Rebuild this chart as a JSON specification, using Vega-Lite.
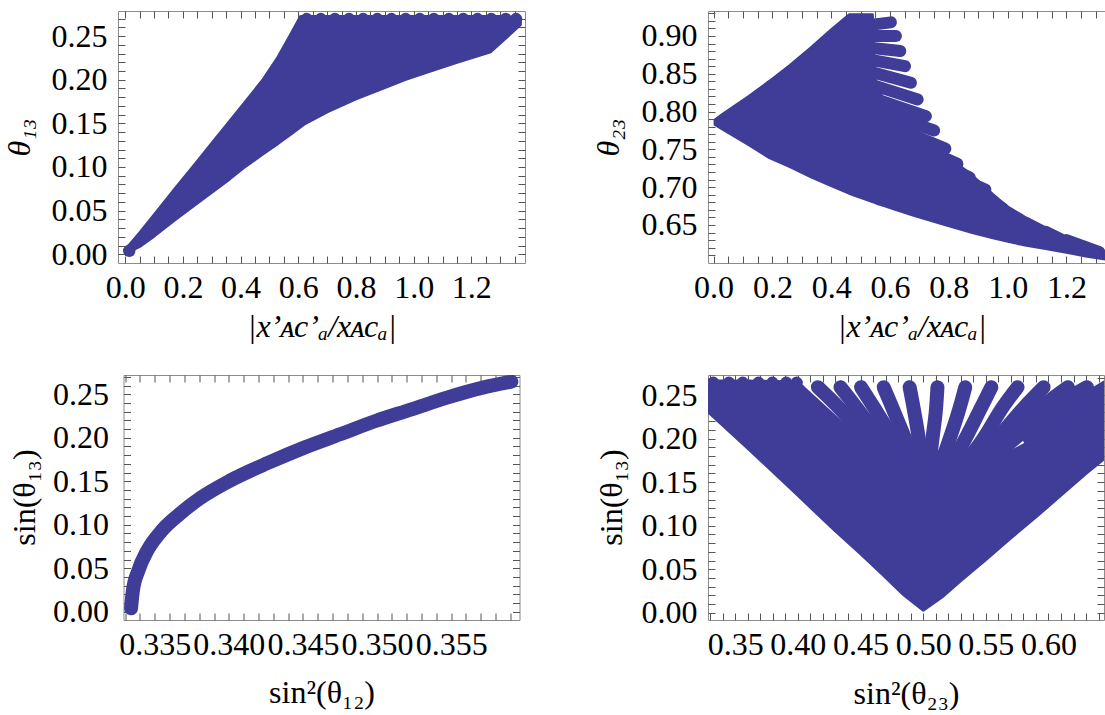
{
  "$schema": "https://vega.github.io/schema/vega-lite/v6.json",
  "background": "white",
  "padding": {"left": 2, "top": 10, "right": -10, "bottom": 0},
  "columns": 2,
  "align": "all",
  "bounds": "flush",
  "center": true,
  "spacing": {"row": 112, "column": 183},
  "config": {
    "view": {"stroke": "#8c8c8c", "strokeWidth": 1},
    "font": "Liberation Serif",
    "axis": {
      "domain": false, "grid": false,
      "labelFont": "Liberation Serif", "labelFontSize": 32, "labelColor": "#000",
      "titleFont": "Liberation Serif", "titleFontSize": 32, "titleColor": "#000", "titleFontWeight": "normal",
      "tickColor": "#555", "tickWidth": 1, "tickSize": -7,
      "labelOverlap": false, "labelFlush": false, "labelBound": false
    }
  },
  "datasets": {
    "p1body": [
      {"x": 0.008, "lo": 0.002, "hi": 0.008},
      {"x": 0.05, "lo": 0.009, "hi": 0.0244},
      {"x": 0.101, "lo": 0.021, "hi": 0.0453},
      {"x": 0.17, "lo": 0.039, "hi": 0.074},
      {"x": 0.243, "lo": 0.057, "hi": 0.1035},
      {"x": 0.3, "lo": 0.071, "hi": 0.127},
      {"x": 0.361, "lo": 0.086, "hi": 0.152},
      {"x": 0.41, "lo": 0.099, "hi": 0.172},
      {"x": 0.478, "lo": 0.115, "hi": 0.2},
      {"x": 0.53, "lo": 0.127, "hi": 0.226},
      {"x": 0.571, "lo": 0.137, "hi": 0.25},
      {"x": 0.608, "lo": 0.146, "hi": 0.2725},
      {"x": 0.62, "lo": 0.149, "hi": 0.2725},
      {"x": 0.7, "lo": 0.163, "hi": 0.2725},
      {"x": 0.8, "lo": 0.178, "hi": 0.2725},
      {"x": 0.9, "lo": 0.191, "hi": 0.2725},
      {"x": 0.97, "lo": 0.2, "hi": 0.2725},
      {"x": 1.05, "lo": 0.209, "hi": 0.2725},
      {"x": 1.15, "lo": 0.22, "hi": 0.2725},
      {"x": 1.267, "lo": 0.232, "hi": 0.2725},
      {"x": 1.32, "lo": 0.248, "hi": 0.2725},
      {"x": 1.37, "lo": 0.263, "hi": 0.2695}
    ],
    "p1bumps": [
      {"x": 0.014, "y": 0.004},
      {"x": 0.629, "y": 0.2695}, {"x": 0.678, "y": 0.2695}, {"x": 0.727, "y": 0.2695},
      {"x": 0.776, "y": 0.2695}, {"x": 0.825, "y": 0.2695}, {"x": 0.874, "y": 0.2695},
      {"x": 0.923, "y": 0.2695}, {"x": 0.972, "y": 0.2695}, {"x": 1.021, "y": 0.2695},
      {"x": 1.07, "y": 0.2695}, {"x": 1.122, "y": 0.2695}, {"x": 1.172, "y": 0.2695},
      {"x": 1.221, "y": 0.2695}, {"x": 1.269, "y": 0.2695}, {"x": 1.319, "y": 0.2695},
      {"x": 1.355, "y": 0.2695}
    ],
    "p2body": [
      {"x": 0.005, "lo": 0.783, "hi": 0.789},
      {"x": 0.03, "lo": 0.777, "hi": 0.796},
      {"x": 0.06, "lo": 0.77, "hi": 0.804},
      {"x": 0.12, "lo": 0.756, "hi": 0.82},
      {"x": 0.19, "lo": 0.739, "hi": 0.84},
      {"x": 0.26, "lo": 0.727, "hi": 0.861},
      {"x": 0.33, "lo": 0.714, "hi": 0.884},
      {"x": 0.4, "lo": 0.702, "hi": 0.908},
      {"x": 0.461, "lo": 0.692, "hi": 0.928},
      {"x": 0.54, "lo": 0.681, "hi": 0.928},
      {"x": 0.548, "lo": 0.68, "hi": 0.845},
      {"x": 0.56, "lo": 0.678, "hi": 0.83},
      {"x": 0.585, "lo": 0.675, "hi": 0.81},
      {"x": 0.615, "lo": 0.671, "hi": 0.792},
      {"x": 0.686, "lo": 0.662, "hi": 0.77},
      {"x": 0.792, "lo": 0.65, "hi": 0.742},
      {"x": 0.88, "lo": 0.64, "hi": 0.715},
      {"x": 0.95, "lo": 0.633, "hi": 0.69},
      {"x": 1.005, "lo": 0.628, "hi": 0.672},
      {"x": 1.064, "lo": 0.623, "hi": 0.657},
      {"x": 1.129, "lo": 0.619, "hi": 0.643},
      {"x": 1.2, "lo": 0.614, "hi": 0.632},
      {"x": 1.265, "lo": 0.609, "hi": 0.622},
      {"x": 1.334, "lo": 0.605, "hi": 0.614},
      {"x": 1.37, "lo": 0.603, "hi": 0.612}
    ],
    "p2fingers": [
      {"f": "f01", "i": 0, "x": 0.54, "y": 0.915}, {"f": "f01", "i": 1, "x": 0.603, "y": 0.918},
      {"f": "f02", "i": 0, "x": 0.54, "y": 0.9}, {"f": "f02", "i": 1, "x": 0.62, "y": 0.9},
      {"f": "f03", "i": 0, "x": 0.54, "y": 0.884}, {"f": "f03", "i": 1, "x": 0.635, "y": 0.88},
      {"f": "f04", "i": 0, "x": 0.54, "y": 0.868}, {"f": "f04", "i": 1, "x": 0.651, "y": 0.86},
      {"f": "f05", "i": 0, "x": 0.54, "y": 0.852}, {"f": "f05", "i": 1, "x": 0.671, "y": 0.838},
      {"f": "f06", "i": 0, "x": 0.55, "y": 0.834}, {"f": "f06", "i": 1, "x": 0.694, "y": 0.816},
      {"f": "f07", "i": 0, "x": 0.57, "y": 0.814}, {"f": "f07", "i": 1, "x": 0.722, "y": 0.794},
      {"f": "f08", "i": 0, "x": 0.6, "y": 0.795}, {"f": "f08", "i": 1, "x": 0.75, "y": 0.775},
      {"f": "f09", "i": 0, "x": 0.64, "y": 0.775}, {"f": "f09", "i": 1, "x": 0.788, "y": 0.751},
      {"f": "f10", "i": 0, "x": 0.69, "y": 0.755}, {"f": "f10", "i": 1, "x": 0.829, "y": 0.731},
      {"f": "f11", "i": 0, "x": 0.75, "y": 0.735}, {"f": "f11", "i": 1, "x": 0.871, "y": 0.713},
      {"f": "f12", "i": 0, "x": 0.81, "y": 0.716}, {"f": "f12", "i": 1, "x": 0.924, "y": 0.697},
      {"f": "f13", "i": 0, "x": 0.87, "y": 0.7}, {"f": "f13", "i": 1, "x": 0.983, "y": 0.672},
      {"f": "f14", "i": 0, "x": 0.93, "y": 0.683}, {"f": "f14", "i": 1, "x": 1.042, "y": 0.657},
      {"f": "f15", "i": 0, "x": 0.99, "y": 0.668}, {"f": "f15", "i": 1, "x": 1.107, "y": 0.643},
      {"f": "f16", "i": 0, "x": 1.06, "y": 0.653}, {"f": "f16", "i": 1, "x": 1.178, "y": 0.63},
      {"f": "f17", "i": 0, "x": 1.13, "y": 0.641}, {"f": "f17", "i": 1, "x": 1.243, "y": 0.619},
      {"f": "f18", "i": 0, "x": 1.2, "y": 0.63}, {"f": "f18", "i": 1, "x": 1.312, "y": 0.614}
    ],
    "p3curve": [
      {"x": 0.3334, "y": 0.004},
      {"x": 0.33352, "y": 0.0238},
      {"x": 0.33388, "y": 0.0468},
      {"x": 0.33448, "y": 0.0698},
      {"x": 0.33545, "y": 0.0928},
      {"x": 0.33665, "y": 0.112},
      {"x": 0.3381, "y": 0.131},
      {"x": 0.34003, "y": 0.1503},
      {"x": 0.34268, "y": 0.1714},
      {"x": 0.34509, "y": 0.1887},
      {"x": 0.3475, "y": 0.204},
      {"x": 0.3499, "y": 0.2193},
      {"x": 0.35232, "y": 0.2327},
      {"x": 0.35472, "y": 0.2462},
      {"x": 0.35713, "y": 0.2577},
      {"x": 0.35906, "y": 0.2646}
    ],
    "p4body": [
      {"x": 0.326, "lo": 0.234, "hi": 0.266},
      {"x": 0.36, "lo": 0.189, "hi": 0.266},
      {"x": 0.4, "lo": 0.135, "hi": 0.265},
      {"x": 0.405, "lo": 0.128, "hi": 0.258},
      {"x": 0.43, "lo": 0.094, "hi": 0.225},
      {"x": 0.45, "lo": 0.068, "hi": 0.198},
      {"x": 0.467, "lo": 0.045, "hi": 0.175},
      {"x": 0.485, "lo": 0.02, "hi": 0.16},
      {"x": 0.5, "lo": 0.003, "hi": 0.155},
      {"x": 0.515, "lo": 0.018, "hi": 0.156},
      {"x": 0.53, "lo": 0.037, "hi": 0.162},
      {"x": 0.55, "lo": 0.061, "hi": 0.172},
      {"x": 0.57, "lo": 0.086, "hi": 0.185},
      {"x": 0.59, "lo": 0.11, "hi": 0.2},
      {"x": 0.61, "lo": 0.135, "hi": 0.215},
      {"x": 0.63, "lo": 0.16, "hi": 0.235},
      {"x": 0.648, "lo": 0.181, "hi": 0.258}
    ],
    "p4fingers": [
      {"f": "A", "i": 0, "x": 0.416, "y": 0.259}, {"f": "A", "i": 1, "x": 0.433, "y": 0.235}, {"f": "A", "i": 2, "x": 0.455, "y": 0.2}, {"f": "A", "i": 3, "x": 0.477, "y": 0.165},
      {"f": "B", "i": 0, "x": 0.434, "y": 0.259}, {"f": "B", "i": 1, "x": 0.447, "y": 0.235}, {"f": "B", "i": 2, "x": 0.465, "y": 0.2}, {"f": "B", "i": 3, "x": 0.485, "y": 0.16},
      {"f": "C", "i": 0, "x": 0.4504, "y": 0.259}, {"f": "C", "i": 1, "x": 0.461, "y": 0.235}, {"f": "C", "i": 2, "x": 0.476, "y": 0.2}, {"f": "C", "i": 3, "x": 0.492, "y": 0.158},
      {"f": "D", "i": 0, "x": 0.4685, "y": 0.259}, {"f": "D", "i": 1, "x": 0.477, "y": 0.23}, {"f": "D", "i": 2, "x": 0.487, "y": 0.195}, {"f": "D", "i": 3, "x": 0.497, "y": 0.156},
      {"f": "E", "i": 0, "x": 0.4892, "y": 0.259}, {"f": "E", "i": 1, "x": 0.493, "y": 0.23}, {"f": "E", "i": 2, "x": 0.497, "y": 0.195}, {"f": "E", "i": 3, "x": 0.5, "y": 0.155},
      {"f": "F", "i": 0, "x": 0.5114, "y": 0.259}, {"f": "F", "i": 1, "x": 0.51, "y": 0.23}, {"f": "F", "i": 2, "x": 0.507, "y": 0.195}, {"f": "F", "i": 3, "x": 0.504, "y": 0.155},
      {"f": "G", "i": 0, "x": 0.5336, "y": 0.259}, {"f": "G", "i": 1, "x": 0.528, "y": 0.23}, {"f": "G", "i": 2, "x": 0.52, "y": 0.195}, {"f": "G", "i": 3, "x": 0.51, "y": 0.155},
      {"f": "H", "i": 0, "x": 0.5544, "y": 0.259}, {"f": "H", "i": 1, "x": 0.545, "y": 0.232}, {"f": "H", "i": 2, "x": 0.533, "y": 0.198}, {"f": "H", "i": 3, "x": 0.518, "y": 0.158},
      {"f": "I", "i": 0, "x": 0.5753, "y": 0.259}, {"f": "I", "i": 1, "x": 0.563, "y": 0.235}, {"f": "I", "i": 2, "x": 0.548, "y": 0.2}, {"f": "I", "i": 3, "x": 0.527, "y": 0.16},
      {"f": "J", "i": 0, "x": 0.5961, "y": 0.259}, {"f": "J", "i": 1, "x": 0.58, "y": 0.235}, {"f": "J", "i": 2, "x": 0.562, "y": 0.205}, {"f": "J", "i": 3, "x": 0.538, "y": 0.165},
      {"f": "K", "i": 0, "x": 0.6155, "y": 0.259}, {"f": "K", "i": 1, "x": 0.598, "y": 0.24}, {"f": "K", "i": 2, "x": 0.578, "y": 0.212}, {"f": "K", "i": 3, "x": 0.55, "y": 0.175},
      {"f": "L", "i": 0, "x": 0.6307, "y": 0.259}, {"f": "L", "i": 1, "x": 0.612, "y": 0.243}, {"f": "L", "i": 2, "x": 0.59, "y": 0.22}, {"f": "L", "i": 3, "x": 0.565, "y": 0.19},
      {"f": "M", "i": 0, "x": 0.646, "y": 0.259}, {"f": "M", "i": 1, "x": 0.628, "y": 0.243}, {"f": "M", "i": 2, "x": 0.607, "y": 0.222}, {"f": "M", "i": 3, "x": 0.585, "y": 0.2}
    ],
    "p4bumps": [
      {"x": 0.3325, "y": 0.264}, {"x": 0.345, "y": 0.264}, {"x": 0.356, "y": 0.264},
      {"x": 0.3686, "y": 0.264}, {"x": 0.3797, "y": 0.264}, {"x": 0.3907, "y": 0.264},
      {"x": 0.399, "y": 0.264}
    ]
  },
  "concat": [
    {
      "width": 407, "height": 252,
      "layer": [
        {
          "data": {"name": "p1body"},
          "mark": {"type": "area", "color": "#3f3d98", "stroke": "#3f3d98", "strokeWidth": 3, "strokeJoin": "round", "opacity": 1, "clip": true},
          "encoding": {
            "x": {"field": "x", "type": "quantitative", "scale": {"domain": [-0.025, 1.386], "nice": false, "zero": false},
              "axis": {"orient": "bottom", "values": [0,0.05,0.1,0.15,0.2,0.25,0.3,0.35,0.4,0.45,0.5,0.55,0.6,0.65,0.7,0.75,0.8,0.85,0.9,0.95,1,1.05,1.1,1.15,1.2,1.25,1.3,1.35],
                "labelExpr": "abs(datum.value*5-round(datum.value*5))<0.01 ? format(datum.value,'.1f') : ''",
                "labelFontSize": {"condition": {"test": "abs(datum.value*5-round(datum.value*5))<0.01", "value": 32}, "value": 0},
                "labelPadding": 41, "labelBaseline": "alphabetic",
                "title": "|x’ᴀc’ₐ/xᴀcₐ|", "titleFontStyle": "italic", "titleY": 73, "titleBaseline": "alphabetic",
                "encode": {"ticks": {"update": {"y2": {"signal": "abs(datum.value*5-round(datum.value*5))<0.01 ? -7 : -4"}}}}}},
            "y": {"field": "lo", "type": "quantitative", "scale": {"domain": [-0.01, 0.2787], "nice": false, "zero": false},
              "axis": {"orient": "left", "values": [0,0.01,0.02,0.03,0.04,0.05,0.06,0.07,0.08,0.09,0.1,0.11,0.12,0.13,0.14,0.15,0.16,0.17,0.18,0.19,0.2,0.21,0.22,0.23,0.24,0.25,0.26,0.27],
                "labelExpr": "abs(datum.value*20-round(datum.value*20))<0.01 ? format(datum.value,'.2f') : ''",
                "labelFontSize": {"condition": {"test": "abs(datum.value*20-round(datum.value*20))<0.01", "value": 32}, "value": 0},
                "labelPadding": 18,
                "title": "θ₁₃", "titleFontStyle": "italic", "titleX": -99, "titleY": 126, "titleBaseline": "middle", "titleAlign": "center",
                "encode": {"ticks": {"update": {"x2": {"signal": "abs(datum.value*20-round(datum.value*20))<0.01 ? 7 : 4"}}}}}},
            "y2": {"field": "hi"}
          }
        },
        {
          "data": {"name": "p1bumps"},
          "mark": {"type": "circle", "size": 155, "color": "#3f3d98", "opacity": 1, "clip": true},
          "encoding": {
            "x": {"field": "x", "type": "quantitative", "scale": {"domain": [-0.025, 1.386], "nice": false, "zero": false},
              "axis": {"orient": "top", "values": [0,0.05,0.1,0.15,0.2,0.25,0.3,0.35,0.4,0.45,0.5,0.55,0.6,0.65,0.7,0.75,0.8,0.85,0.9,0.95,1,1.05,1.1,1.15,1.2,1.25,1.3,1.35],
                "labels": false, "title": null,
                "encode": {"ticks": {"update": {"y2": {"signal": "abs(datum.value*5-round(datum.value*5))<0.01 ? 7 : 4"}}}}}},
            "y": {"field": "y", "type": "quantitative", "scale": {"domain": [-0.01, 0.2787], "nice": false, "zero": false},
              "axis": {"orient": "right", "values": [0,0.01,0.02,0.03,0.04,0.05,0.06,0.07,0.08,0.09,0.1,0.11,0.12,0.13,0.14,0.15,0.16,0.17,0.18,0.19,0.2,0.21,0.22,0.23,0.24,0.25,0.26,0.27],
                "labels": false, "title": null,
                "encode": {"ticks": {"update": {"x2": {"signal": "abs(datum.value*20-round(datum.value*20))<0.01 ? -7 : -4"}}}}}}
          }
        }
      ],
      "resolve": {"axis": {"x": "independent", "y": "independent"}}
    },
    {
      "width": 407, "height": 252,
      "layer": [
        {
          "data": {"name": "p2body"},
          "mark": {"type": "area", "color": "#3f3d98", "stroke": "#3f3d98", "strokeWidth": 3, "strokeJoin": "round", "opacity": 1, "clip": true},
          "encoding": {
            "x": {"field": "x", "type": "quantitative", "scale": {"domain": [-0.019, 1.365], "nice": false, "zero": false},
              "axis": {"orient": "bottom", "values": [0,0.05,0.1,0.15,0.2,0.25,0.3,0.35,0.4,0.45,0.5,0.55,0.6,0.65,0.7,0.75,0.8,0.85,0.9,0.95,1,1.05,1.1,1.15,1.2,1.25,1.3,1.35],
                "labelExpr": "abs(datum.value*5-round(datum.value*5))<0.01 ? format(datum.value,'.1f') : ''",
                "labelFontSize": {"condition": {"test": "abs(datum.value*5-round(datum.value*5))<0.01", "value": 32}, "value": 0},
                "labelPadding": 41, "labelBaseline": "alphabetic",
                "title": "|x’ᴀc’ₐ/xᴀcₐ|", "titleFontStyle": "italic", "titleY": 73, "titleBaseline": "alphabetic",
                "encode": {"ticks": {"update": {"y2": {"signal": "abs(datum.value*5-round(datum.value*5))<0.01 ? -7 : -4"}}}}}},
            "y": {"field": "lo", "type": "quantitative", "scale": {"domain": [0.5997, 0.933], "nice": false, "zero": false},
              "axis": {"orient": "left", "values": [0.61,0.62,0.63,0.64,0.65,0.66,0.67,0.68,0.69,0.7,0.71,0.72,0.73,0.74,0.75,0.76,0.77,0.78,0.79,0.8,0.81,0.82,0.83,0.84,0.85,0.86,0.87,0.88,0.89,0.9,0.91,0.92,0.93],
                "labelExpr": "abs(datum.value*20-round(datum.value*20))<0.01 ? format(datum.value,'.2f') : ''",
                "labelFontSize": {"condition": {"test": "abs(datum.value*20-round(datum.value*20))<0.01", "value": 32}, "value": 0},
                "labelPadding": 18,
                "title": "θ₂₃", "titleFontStyle": "italic", "titleX": -100, "titleY": 126, "titleBaseline": "middle", "titleAlign": "center",
                "encode": {"ticks": {"update": {"x2": {"signal": "abs(datum.value*20-round(datum.value*20))<0.01 ? 7 : 4"}}}}}},
            "y2": {"field": "hi"}
          }
        },
        {
          "data": {"name": "p2fingers"},
          "mark": {"type": "line", "color": "#3f3d98", "strokeWidth": 12, "strokeCap": "round", "strokeJoin": "round", "opacity": 1, "clip": true},
          "encoding": {
            "x": {"field": "x", "type": "quantitative", "scale": {"domain": [-0.019, 1.365], "nice": false, "zero": false},
              "axis": {"orient": "top", "values": [0,0.05,0.1,0.15,0.2,0.25,0.3,0.35,0.4,0.45,0.5,0.55,0.6,0.65,0.7,0.75,0.8,0.85,0.9,0.95,1,1.05,1.1,1.15,1.2,1.25,1.3,1.35],
                "labels": false, "title": null,
                "encode": {"ticks": {"update": {"y2": {"signal": "abs(datum.value*5-round(datum.value*5))<0.01 ? 7 : 4"}}}}}},
            "y": {"field": "y", "type": "quantitative", "scale": {"domain": [0.5997, 0.933], "nice": false, "zero": false},
              "axis": {"orient": "right", "values": [0.61,0.62,0.63,0.64,0.65,0.66,0.67,0.68,0.69,0.7,0.71,0.72,0.73,0.74,0.75,0.76,0.77,0.78,0.79,0.8,0.81,0.82,0.83,0.84,0.85,0.86,0.87,0.88,0.89,0.9,0.91,0.92,0.93],
                "labels": false, "title": null,
                "encode": {"ticks": {"update": {"x2": {"signal": "abs(datum.value*20-round(datum.value*20))<0.01 ? -7 : -4"}}}}}},
            "detail": {"field": "f"},
            "order": {"field": "i"}
          }
        }
      ],
      "resolve": {"axis": {"x": "independent", "y": "independent"}}
    },
    {
      "width": 396, "height": 245,
      "layer": [
        {
          "data": {"name": "p3curve"},
          "mark": {"type": "line", "color": "#3f3d98", "strokeWidth": 14, "strokeCap": "round", "strokeJoin": "round", "interpolate": "monotone", "opacity": 1, "clip": true},
          "encoding": {
            "x": {"field": "x", "type": "quantitative", "scale": {"domain": [0.33289, 0.35961], "nice": false, "zero": false},
              "axis": {"orient": "bottom", "values": [0.333,0.334,0.335,0.336,0.337,0.338,0.339,0.34,0.341,0.342,0.343,0.344,0.345,0.346,0.347,0.348,0.349,0.35,0.351,0.352,0.353,0.354,0.355,0.356,0.357,0.358,0.359],
                "labelExpr": "abs(datum.value*200-round(datum.value*200))<0.01 ? format(datum.value,'.3f') : ''",
                "labelFontSize": {"condition": {"test": "abs(datum.value*200-round(datum.value*200))<0.01", "value": 32}, "value": 0},
                "labelPadding": 41, "labelBaseline": "alphabetic",
                "title": "sin²(θ₁₂)", "titleY": 82, "titleBaseline": "alphabetic",
                "encode": {"ticks": {"update": {"y2": {"signal": "abs(datum.value*200-round(datum.value*200))<0.01 ? -7 : -4"}}}}}},
            "y": {"field": "y", "type": "quantitative", "scale": {"domain": [-0.0095, 0.2722], "nice": false, "zero": false},
              "axis": {"orient": "left", "values": [0,0.01,0.02,0.03,0.04,0.05,0.06,0.07,0.08,0.09,0.1,0.11,0.12,0.13,0.14,0.15,0.16,0.17,0.18,0.19,0.2,0.21,0.22,0.23,0.24,0.25,0.26,0.27],
                "labelExpr": "abs(datum.value*20-round(datum.value*20))<0.01 ? format(datum.value,'.2f') : ''",
                "labelFontSize": {"condition": {"test": "abs(datum.value*20-round(datum.value*20))<0.01", "value": 32}, "value": 0},
                "labelPadding": 22,
                "title": "sin(θ₁₃)", "titleX": -99, "titleY": 122, "titleBaseline": "middle", "titleAlign": "center",
                "encode": {"ticks": {"update": {"x2": {"signal": "abs(datum.value*20-round(datum.value*20))<0.01 ? 7 : 4"}}}}}}
          }
        },
        {
          "data": {"name": "p3curve"},
          "mark": {"type": "line", "color": "#3f3d98", "strokeWidth": 14, "interpolate": "monotone", "opacity": 0, "clip": true},
          "encoding": {
            "x": {"field": "x", "type": "quantitative", "scale": {"domain": [0.33289, 0.35961], "nice": false, "zero": false},
              "axis": {"orient": "top", "values": [0.333,0.334,0.335,0.336,0.337,0.338,0.339,0.34,0.341,0.342,0.343,0.344,0.345,0.346,0.347,0.348,0.349,0.35,0.351,0.352,0.353,0.354,0.355,0.356,0.357,0.358,0.359],
                "labels": false, "title": null,
                "encode": {"ticks": {"update": {"y2": {"signal": "abs(datum.value*200-round(datum.value*200))<0.01 ? 7 : 4"}}}}}},
            "y": {"field": "y", "type": "quantitative", "scale": {"domain": [-0.0095, 0.2722], "nice": false, "zero": false},
              "axis": {"orient": "right", "values": [0,0.01,0.02,0.03,0.04,0.05,0.06,0.07,0.08,0.09,0.1,0.11,0.12,0.13,0.14,0.15,0.16,0.17,0.18,0.19,0.2,0.21,0.22,0.23,0.24,0.25,0.26,0.27],
                "labels": false, "title": null,
                "encode": {"ticks": {"update": {"x2": {"signal": "abs(datum.value*20-round(datum.value*20))<0.01 ? -7 : -4"}}}}}}
          }
        }
      ],
      "resolve": {"axis": {"x": "independent", "y": "independent"}}
    },
    {
      "width": 396, "height": 245,
      "layer": [
        {
          "data": {"name": "p4body"},
          "mark": {"type": "area", "color": "#3f3d98", "stroke": "#3f3d98", "strokeWidth": 3, "strokeJoin": "round", "opacity": 1, "clip": true},
          "encoding": {
            "x": {"field": "x", "type": "quantitative", "scale": {"domain": [0.3283, 0.6443], "nice": false, "zero": false},
              "axis": {"orient": "bottom", "values": [0.33,0.34,0.35,0.36,0.37,0.38,0.39,0.4,0.41,0.42,0.43,0.44,0.45,0.46,0.47,0.48,0.49,0.5,0.51,0.52,0.53,0.54,0.55,0.56,0.57,0.58,0.59,0.6,0.61,0.62,0.63,0.64],
                "labelExpr": "abs(datum.value*20-round(datum.value*20))<0.01 ? format(datum.value,'.2f') : ''",
                "labelFontSize": {"condition": {"test": "abs(datum.value*20-round(datum.value*20))<0.01", "value": 32}, "value": 0},
                "labelPadding": 41, "labelBaseline": "alphabetic",
                "title": "sin²(θ₂₃)", "titleY": 83, "titleBaseline": "alphabetic",
                "encode": {"ticks": {"update": {"y2": {"signal": "abs(datum.value*20-round(datum.value*20))<0.01 ? -7 : -4"}}}}}},
            "y": {"field": "lo", "type": "quantitative", "scale": {"domain": [-0.0083, 0.273], "nice": false, "zero": false},
              "axis": {"orient": "left", "values": [0,0.01,0.02,0.03,0.04,0.05,0.06,0.07,0.08,0.09,0.1,0.11,0.12,0.13,0.14,0.15,0.16,0.17,0.18,0.19,0.2,0.21,0.22,0.23,0.24,0.25,0.26,0.27],
                "labelExpr": "abs(datum.value*20-round(datum.value*20))<0.01 ? format(datum.value,'.2f') : ''",
                "labelFontSize": {"condition": {"test": "abs(datum.value*20-round(datum.value*20))<0.01", "value": 32}, "value": 0},
                "labelPadding": 18,
                "title": "sin(θ₁₃)", "titleX": -97, "titleY": 122, "titleBaseline": "middle", "titleAlign": "center",
                "encode": {"ticks": {"update": {"x2": {"signal": "abs(datum.value*20-round(datum.value*20))<0.01 ? 7 : 4"}}}}}},
            "y2": {"field": "hi"}
          }
        },
        {
          "data": {"name": "p4fingers"},
          "mark": {"type": "line", "color": "#3f3d98", "strokeWidth": 14, "strokeCap": "round", "strokeJoin": "round", "interpolate": "catmull-rom", "opacity": 1, "clip": true},
          "encoding": {
            "x": {"field": "x", "type": "quantitative", "scale": {"domain": [0.3283, 0.6443], "nice": false, "zero": false},
              "axis": {"orient": "top", "values": [0.33,0.34,0.35,0.36,0.37,0.38,0.39,0.4,0.41,0.42,0.43,0.44,0.45,0.46,0.47,0.48,0.49,0.5,0.51,0.52,0.53,0.54,0.55,0.56,0.57,0.58,0.59,0.6,0.61,0.62,0.63,0.64],
                "labels": false, "title": null,
                "encode": {"ticks": {"update": {"y2": {"signal": "abs(datum.value*20-round(datum.value*20))<0.01 ? 7 : 4"}}}}}},
            "y": {"field": "y", "type": "quantitative", "scale": {"domain": [-0.0083, 0.273], "nice": false, "zero": false},
              "axis": {"orient": "right", "values": [0,0.01,0.02,0.03,0.04,0.05,0.06,0.07,0.08,0.09,0.1,0.11,0.12,0.13,0.14,0.15,0.16,0.17,0.18,0.19,0.2,0.21,0.22,0.23,0.24,0.25,0.26,0.27],
                "labels": false, "title": null,
                "encode": {"ticks": {"update": {"x2": {"signal": "abs(datum.value*20-round(datum.value*20))<0.01 ? -7 : -4"}}}}}},
            "detail": {"field": "f"},
            "order": {"field": "i"}
          }
        },
        {
          "data": {"name": "p4bumps"},
          "mark": {"type": "circle", "size": 155, "color": "#3f3d98", "opacity": 1, "clip": true},
          "encoding": {
            "x": {"field": "x", "type": "quantitative", "scale": {"domain": [0.3283, 0.6443], "nice": false, "zero": false}, "axis": null},
            "y": {"field": "y", "type": "quantitative", "scale": {"domain": [-0.0083, 0.273], "nice": false, "zero": false}, "axis": null}
          }
        }
      ],
      "resolve": {"axis": {"x": "independent", "y": "independent"}}
    }
  ]
}
